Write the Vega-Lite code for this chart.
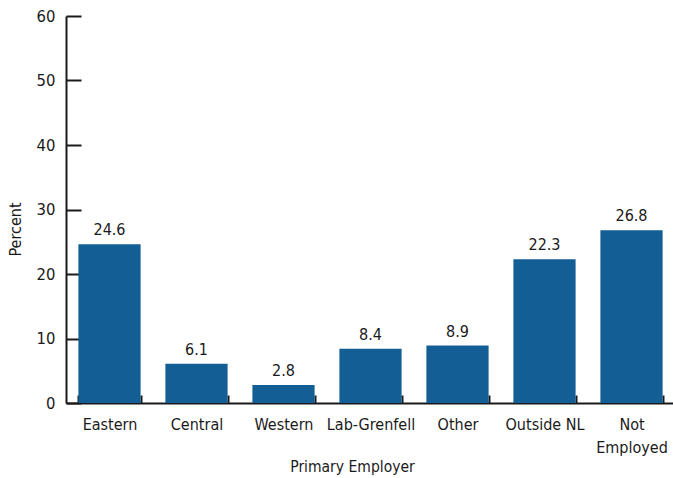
{
  "$schema": "https://vega.github.io/schema/vega-lite/v6.json",
  "width": 609,
  "height": 387,
  "autosize": {"type": "none"},
  "padding": {"left": 66, "top": 16, "right": 0, "bottom": 75},
  "background": "white",
  "config": {
    "view": {"stroke": null},
    "font": "DejaVu Sans Condensed",
    "axis": {"labelFont": "DejaVu Sans Condensed", "titleFont": "DejaVu Sans Condensed", "labelColor": "#1a1a1a", "titleColor": "#1a1a1a", "domainColor": "#1a1a1a", "tickColor": "#1a1a1a", "domainWidth": 2, "tickWidth": 2, "grid": false}
  },
  "data": {
    "values": [
      {"employer": "Eastern", "percent": 24.6},
      {"employer": "Central", "percent": 6.1},
      {"employer": "Western", "percent": 2.8},
      {"employer": "Lab-Grenfell", "percent": 8.4},
      {"employer": "Other", "percent": 8.9},
      {"employer": "Outside NL", "percent": 22.3},
      {"employer": "Not Employed", "percent": 26.8}
    ]
  },
  "encoding": {
    "x": {
      "field": "employer", "type": "nominal", "sort": null,
      "scale": {"paddingInner": 0.285, "paddingOuter": 0.1425},
      "axis": {
        "title": "Primary Employer", "labelAngle": 0, "labelFontSize": 16, "titleFontSize": 15.5, "titleFontWeight": "normal",
        "tickBand": "extent", "tickSize": -8, "labelPadding": 21, "labelLineHeight": 23,
        "labelExpr": "datum.label == 'Not Employed' ? ['Not', 'Employed'] : datum.label",
        "titleX": 286, "titleY": 56, "titleBaseline": "top", "titleAnchor": null
      }
    },
    "y": {
      "field": "percent", "type": "quantitative",
      "scale": {"domain": [0, 60]},
      "axis": {
        "title": "Percent", "values": [0, 10, 20, 30, 40, 50, 60], "labelFontSize": 16.5, "titleFontSize": 16, "titleFontWeight": "normal",
        "tickSize": -15, "labelPadding": 26,
        "titleX": -51, "titleY": 213, "titleAngle": 270, "titleBaseline": "middle", "titleAlign": "center"
      }
    }
  },
  "layer": [
    {"mark": {"type": "bar", "color": "#135e94"}},
    {
      "mark": {"type": "text", "baseline": "bottom", "dy": -6, "fontSize": 16, "color": "#1a1a1a", "font": "DejaVu Sans Condensed"},
      "encoding": {"text": {"field": "percent", "type": "quantitative", "format": ".1f"}}
    }
  ]
}
